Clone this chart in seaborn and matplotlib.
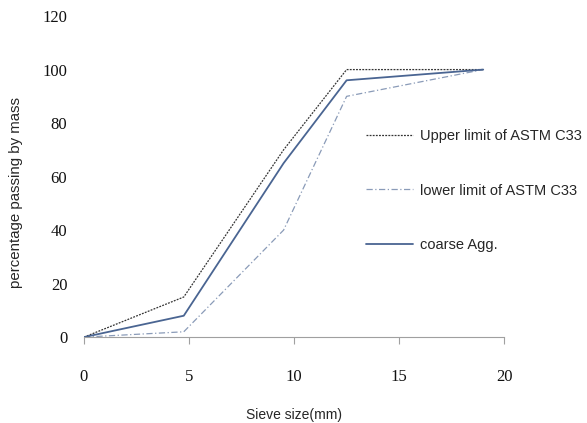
import pandas as pd
import matplotlib.pyplot as plt
import seaborn as sns

sieve = [0, 4.75, 9.5, 12.5, 19]
upper = [0, 15, 70, 100, 100]
lower = [0, 2, 40, 90, 100]
coarse = [0, 8, 65, 96, 100]

df = pd.DataFrame({"sieve": sieve, "upper": upper, "lower": lower, "coarse": coarse})

sns.set_style("white")
plt.rcParams["font.family"] = ["Liberation Sans", "DejaVu Sans"]

fig = plt.figure(figsize=(5.87, 4.23), dpi=100)
ax = fig.add_axes([0.143, 0.203, 0.716, 0.759])

sns.lineplot(data=df, x="sieve", y="upper", ax=ax, color="#333333", linewidth=0.9,
             linestyle=(0, (1.5, 1)), label="Upper limit of ASTM C33")
sns.lineplot(data=df, x="sieve", y="lower", ax=ax, color="#8a9bb8", linewidth=0.9,
             linestyle=(0, (5, 2, 1, 2)), label="lower limit of ASTM C33")
sns.lineplot(data=df, x="sieve", y="coarse", ax=ax, color="#4a6592", linewidth=1.3,
             label="coarse Agg.")

ax.set_xlim(0, 20)
ax.set_ylim(0, 120)
ax.set_xticks([0, 5, 10, 15, 20])
ax.set_yticks([0, 20, 40, 60, 80, 100, 120])
ax.set_xlabel("Sieve size(mm)", fontsize=10)
ax.set_ylabel("percentage passing by mass", fontsize=10.8)
ax.xaxis.set_label_coords(0.5, -0.22)
ax.yaxis.set_label_coords(-0.145, 0.45)
ax.tick_params(axis="x", length=5, direction="out", color="#a0a0a0", pad=18, bottom=True)
ax.tick_params(axis="y", length=0, pad=12)
for lab in ax.get_xticklabels() + ax.get_yticklabels():
    lab.set_family(["Liberation Serif", "DejaVu Serif"])
    lab.set_fontsize(12)
    lab.set_color("#111111")

for s in ["top", "right", "left"]:
    ax.spines[s].set_visible(False)
ax.spines["bottom"].set_color("#a0a0a0")
ax.spines["bottom"].set_linewidth(0.8)

ax.legend(loc="upper left", bbox_to_anchor=(0.64, 0.69), frameon=False, fontsize=10.5,
          labelspacing=2.8, handlelength=3.2, handletextpad=0.5)

fig.savefig("out.png", dpi=100)
